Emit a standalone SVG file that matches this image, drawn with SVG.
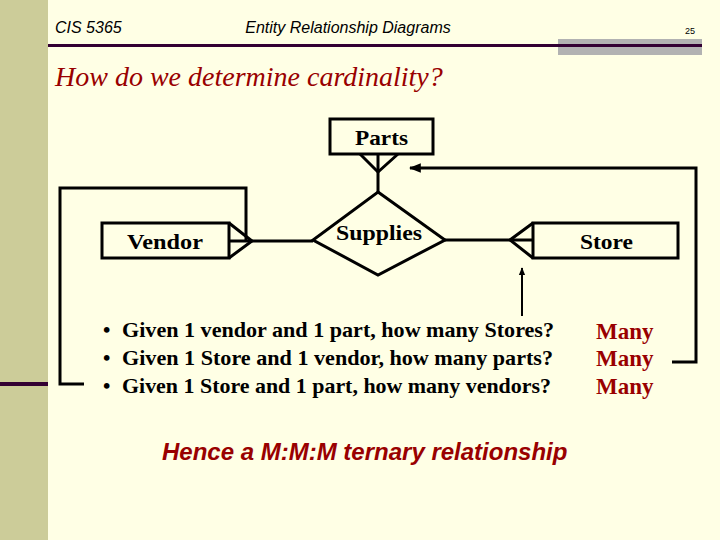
<svg xmlns="http://www.w3.org/2000/svg" width="720" height="540" viewBox="0 0 720 540">
<defs>
<style>
.hdr{font-family:"Liberation Sans",Arial,sans-serif;font-style:italic;fill:#000}
.ent{font-family:"Liberation Serif","Times New Roman",serif;font-weight:bold;font-size:22px;fill:#000}
.box{fill:none;stroke:#000;stroke-width:3}
.ln{fill:none;stroke:#000;stroke-width:3}
.thin{fill:none;stroke:#000;stroke-width:2}
.body{font-family:"Liberation Serif","Times New Roman",serif;font-weight:bold;font-size:21px;fill:#000}
.many{font-family:"Liberation Serif","Times New Roman",serif;font-weight:bold;font-size:23px;fill:#990000}
</style>
<marker id="ah" viewBox="0 0 10 10" refX="9" refY="5" markerWidth="4" markerHeight="4" orient="auto-start-reverse">
<path d="M0,1 L10,5 L0,9 Z" fill="#000"/>
</marker>
</defs>
<rect width="720" height="540" fill="#FFFFE5"/>
<rect x="0" y="0" width="48" height="540" fill="#CCCC99"/>
<rect x="0" y="382" width="48" height="4" fill="#330033"/>
<rect x="558" y="39" width="144" height="16" fill="#B2B2B2"/>
<rect x="48" y="44" width="654" height="3" fill="#330033"/>
<text class="hdr" x="55" y="33" font-size="16">CIS 5365</text>
<text class="hdr" x="348" y="33" font-size="16" text-anchor="middle">Entity Relationship Diagrams</text>
<text x="685" y="34" font-family="Liberation Sans,Arial,sans-serif" font-size="9">25</text>
<text x="55" y="86" font-family="Liberation Serif,'Times New Roman',serif" font-style="italic" font-size="28" fill="#990000">How do we determine cardinality?</text>

<g id="connectors">
<polyline class="ln" points="360,154 378,172 398,154"/>
<line class="ln" x1="378" y1="154" x2="378" y2="192"/>
<polyline class="ln" points="229,223 252,241 229,258"/>
<line class="ln" x1="229" y1="241" x2="313" y2="241"/>
<polyline class="ln" points="533,223 510,240 533,258"/>
<line class="ln" x1="445" y1="240" x2="533" y2="240"/>
<polyline class="ln" points="84,384 60,384 60,188 246,188 246,240"/>
<polyline class="ln" points="672,362 696,362 696,168 410,168" marker-end="url(#ah)"/>
<line class="thin" x1="522" y1="316" x2="522" y2="268" marker-end="url(#ah)"/>
</g>

<g id="parts">
<rect class="box" x="330" y="119" width="103" height="35"/>
<text class="ent" x="355" y="145" textLength="53" lengthAdjust="spacingAndGlyphs">Parts</text>
</g>
<g id="vendor">
<rect class="box" x="102" y="223" width="127" height="35"/>
<text class="ent" x="127" y="249" textLength="76" lengthAdjust="spacingAndGlyphs">Vendor</text>
</g>
<g id="supplies">
<polygon class="box" points="378,192 445,240 378,275 313,240"/>
<text class="ent" x="336" y="240" textLength="86" lengthAdjust="spacingAndGlyphs">Supplies</text>
</g>
<g id="store">
<rect class="box" x="533" y="223" width="145" height="35"/>
<text class="ent" x="580" y="249" textLength="53" lengthAdjust="spacingAndGlyphs">Store</text>
</g>

<g id="questions">
<text class="body" x="103" y="337">•</text>
<text class="body" x="122" y="337" textLength="432" lengthAdjust="spacingAndGlyphs">Given 1 vendor and 1 part, how many Stores?</text>
<text class="body" x="103" y="365">•</text>
<text class="body" x="122" y="365" textLength="431" lengthAdjust="spacingAndGlyphs">Given 1 Store and 1 vendor, how many parts?</text>
<text class="body" x="103" y="393">•</text>
<text class="body" x="122" y="393" textLength="429" lengthAdjust="spacingAndGlyphs">Given 1 Store and 1 part, how many vendors?</text>
<text class="many" x="596" y="339">Many</text>
<text class="many" x="596" y="366">Many</text>
<text class="many" x="596" y="394">Many</text>
</g>
<text x="162" y="460" font-family="Liberation Sans,Arial,sans-serif" font-style="italic" font-weight="bold" font-size="24" fill="#990000">Hence a M:M:M ternary relationship</text>
</svg>
